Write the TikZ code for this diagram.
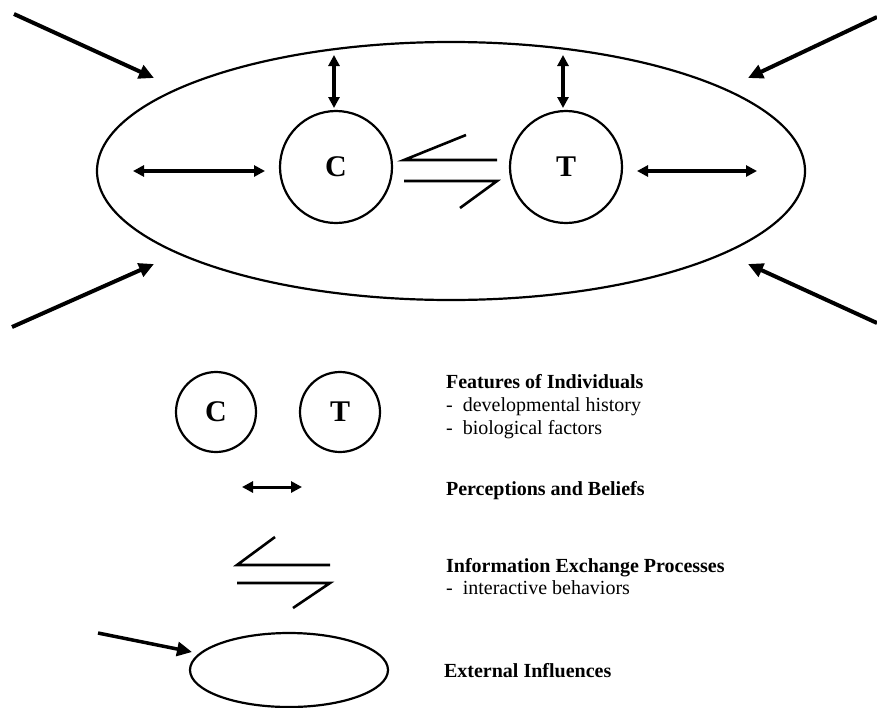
\documentclass[tikz,border=0pt]{standalone}
\usepackage{fontspec}
\setmainfont{Liberation Serif}
\usetikzlibrary{arrows.meta,shapes.geometric,positioning}

\begin{document}
\begin{tikzpicture}[x=1pt,y=-1pt,line width=2.2pt,
    person/.style={draw,circle,inner sep=0pt,font=\bfseries\fontsize{30}{30}\selectfont},
    sphere/.style={draw,ellipse,inner sep=0pt},
    influence/.style={-{Triangle[length=15pt,width=14pt]},line width=4pt},
    belief/.style={{Triangle[length=11pt,width=11pt]}-{Triangle[length=11pt,width=11pt]},line width=3.5pt},
    exchange/.style={line width=2.6pt},
    heading/.style={anchor=base west,inner sep=0pt,font=\bfseries\fontsize{20}{22}\selectfont},
    item/.style={anchor=base west,inner sep=0pt,font=\fontsize{20}{22}\selectfont}]

 \useasboundingbox (0,0) rectangle (877,707);

 % the dyad inside its setting
 \node[sphere,minimum width=708pt,minimum height=258pt] (World) at (451,171) {};
 \node[person,minimum size=112pt] (C) at (336,167) {C};
 \node[person,minimum size=112pt] (T) at (566,167) {T};

 \coordinate (CTop) at (334,55);
 \coordinate (TTop) at (563,55);
 \coordinate (WLeft) at (133,171);
 \coordinate (WRight) at (757,171);
 \draw[belief] (CTop) -- (CTop |- 0,108);
 \draw[belief] (TTop) -- (TTop |- 0,108);
 \draw[belief] (WLeft) -- (265,171);
 \draw[belief] (WRight) -- (637,171);

 % exchange between C and T
 \coordinate (XA) at (466,135);
 \coordinate (XB) at (404,160);
 \coordinate (XC) at (497,160);
 \coordinate (XD) at (404,181);
 \coordinate (XE) at (497,181);
 \coordinate (XF) at (460,208);
 \draw[exchange] (XA) -- (XB) -- (XC);
 \draw[exchange] (XD) -- (XE) -- (XF);

 % influences from outside
 \coordinate (NW) at (14,14);
 \coordinate (NE) at (877,17);
 \coordinate (SW) at (12,327);
 \coordinate (SE) at (877,323);
 \coordinate (NWin) at (154,78);
 \coordinate (NEin) at (748,78);
 \coordinate (SWin) at (154,264);
 \coordinate (SEin) at (748,264);
 \draw[influence] (NW) -- (NWin);
 \draw[influence] (NE) -- (NEin);
 \draw[influence] (SW) -- (SWin);
 \draw[influence] (SE) -- (SEin);

 % legend
 \node[person,minimum size=80pt] (LC) at (216,412) {C};
 \node[person,minimum size=80pt] (LT) at (340,412) {T};
 \node[heading] (FeatHead) at (445,388) {Features of Individuals};
 \node[item] (FeatA) at (445,411) {-\ \ developmental history};
 \node[item] (FeatB) at (445,434) {-\ \ biological factors};

 \coordinate (PL) at (242,487);
 \coordinate (PR) at (302,487);
 \draw[belief,line width=3pt] (PL) -- (PR);
 \node[heading] (PercHead) at (445,495) {Perceptions and Beliefs};

 \coordinate (LA) at (275,537);
 \coordinate (LB) at (237,565);
 \coordinate (LCc) at (330,565);
 \coordinate (LD) at (237,583);
 \coordinate (LE) at (330,583);
 \coordinate (LF) at (293,608);
 \draw[exchange] (LA) -- (LB) -- (LCc);
 \draw[exchange] (LD) -- (LE) -- (LF);
 \node[heading] (InfoHead) at (445,572) {Information Exchange Processes};
 \node[item] (InfoA) at (445,594) {-\ \ interactive behaviors};

 \node[sphere,minimum width=198pt,minimum height=74pt] (LW) at (289,670) {};
 \coordinate (LOut) at (98,633);
 \draw[influence,line width=3.5pt] (LOut) -- (192,652);
 \node[heading] (ExtHead) at (443,677) {External Influences};

\end{tikzpicture}
\end{document}
